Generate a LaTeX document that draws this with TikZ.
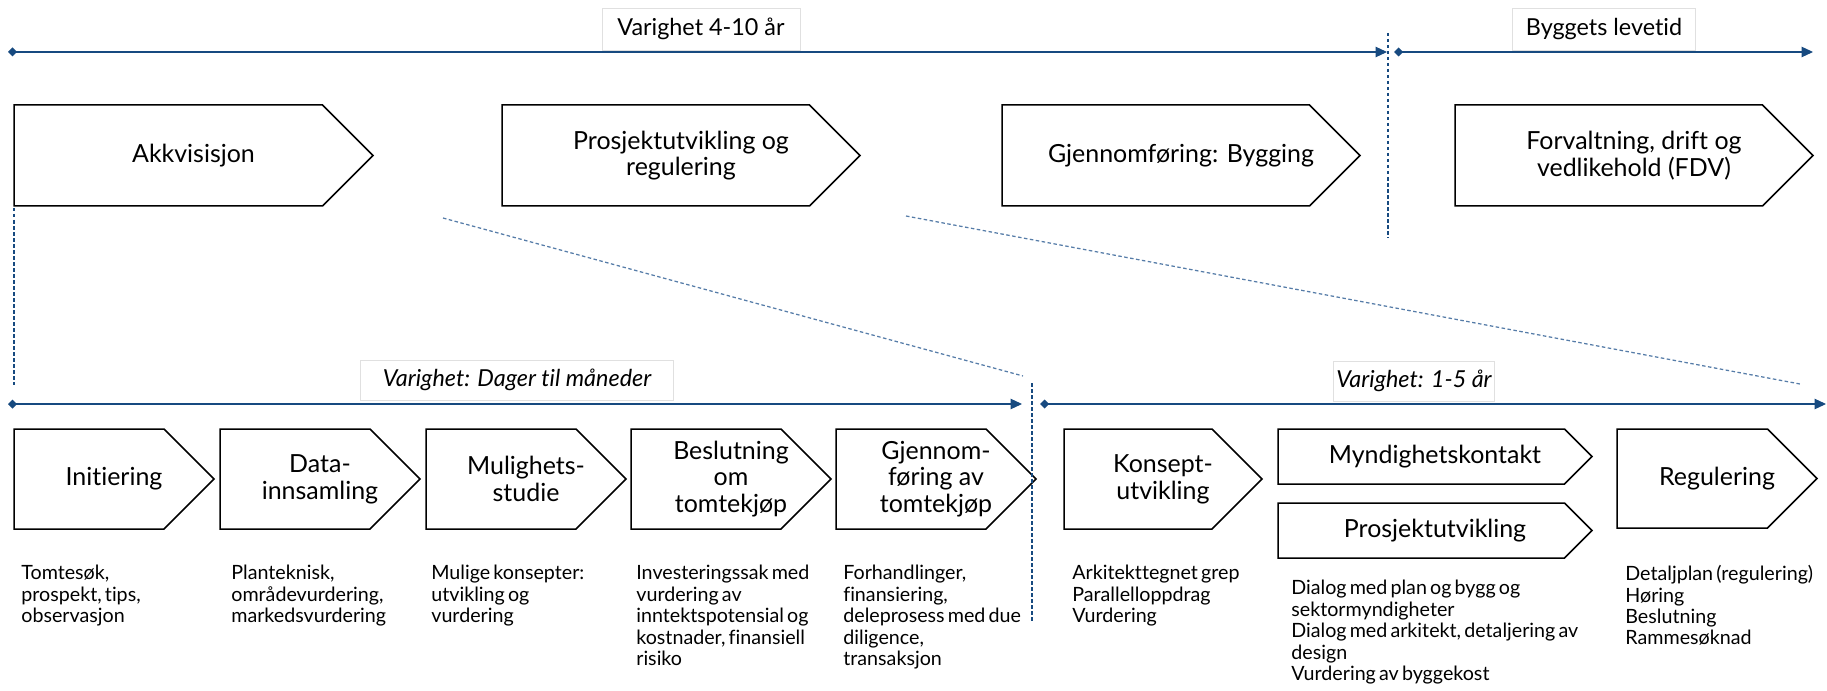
\documentclass[tikz,border=0pt]{standalone}
\usepackage{fontspec}
\setmainfont{Lato}[Ligatures={NoCommon,NoDiscretionary}]
\usetikzlibrary{arrows.meta,calc,positioning}

\definecolor{tlblue}{RGB}{23,74,128}
\definecolor{dashblue}{RGB}{86,124,168}
\definecolor{boxgray}{RGB}{224,224,224}

\newcommand{\descfont}{\fontsize{11.2}{12.2}\selectfont\spaceskip=0.16em plus 0.05em\relax}

% chevron: name, left, top, width, height, text
\newcommand{\chev}[6]{%
  \draw[chevline] (#2,#3) -- ({#2+#4-#5/2},#3) -- ({#2+#4},{#3+#5/2})
    -- ({#2+#4-#5/2},{#3+#5}) -- (#2,{#3+#5}) -- cycle;
  \node[chevtext] (#1) at ({#2+#4/2},{#3+#5/2}) {#6};}

\begin{document}
\begin{tikzpicture}[x=0.2mm,y=-0.2mm,
    chevline/.style={draw=black,line width=0.3mm,line join=miter},
    chevtext/.style={align=center,inner sep=0pt,font=\fontsize{14.2}{15.2}\selectfont},
    timeline/.style={draw=tlblue,line width=0.22mm,
      {Diamond[length=1.8mm,width=1.8mm]}-{Triangle[length=2.3mm,width=2.1mm]}},
    split/.style={draw=tlblue,line width=0.22mm,dash pattern=on 0.7mm off 0.5mm},
    zoomline/.style={draw=dashblue,line width=0.25mm,dash pattern=on 0.7mm off 0.5mm},
    span/.style={draw=boxgray,fill=white,inner sep=0pt,minimum height=8.4mm,
      font=\fontsize{13.3}{15}\selectfont},
    desc/.style={anchor=north west,align=left,inner sep=0pt,font=\descfont}]
  \useasboundingbox (0,0) rectangle (1827,691);
  %
  % timelines
  \coordinate (a1) at (8,52);
  \coordinate (a2) at (1387,52);
  \coordinate (b1) at (1394,52);
  \coordinate (b2) at (1813,52);
  \coordinate (c1) at (8,404);
  \coordinate (c2) at (1022,404);
  \coordinate (d1) at (1040,404);
  \coordinate (d2) at (1826,404);
  \draw[timeline] (a1) -- (a2);
  \draw[timeline] (b1) -- (b2);
  \draw[timeline] (c1) -- (c2);
  \draw[timeline] (d1) -- (d2);
  %
  \node[span,minimum width=39.6mm] (v410) at (701,29) {Varighet 4-10 år};
  \node[span,minimum width=36.6mm] (levetid) at (1604,29) {Byggets levetid};
  \node[span,minimum width=62.6mm,minimum height=8mm,font=\fontsize{13.3}{15}\selectfont\itshape]
    (vdager) at (517,380) {Varighet: Dager til måneder};
  \node[span,minimum width=32.2mm,minimum height=8mm,font=\fontsize{13.3}{15}\selectfont\itshape]
    (v15) at (1414,381) {Varighet: 1-5 år};
  %
  % main phases
  \chev{akk}{14}{105}{359}{101}{Akkvisisjon}
  \chev{prosj}{502}{105}{358}{101}{Prosjektutvikling og\\regulering}
  \chev{bygg}{1002}{105}{358}{101}{Gjennomføring: Bygging}
  \chev{fdv}{1455}{105}{358}{101}{Forvaltning, drift og\\vedlikehold (FDV)}
  %
  % acquisition steps
  \chev{init}{14}{429}{200}{100}{Initiering}
  \chev{data}{220}{429}{200}{100}{Data-\\innsamling}
  \chev{mul}{426}{429}{200}{100}{Mulighets-\\studie}
  \chev{besl}{631}{429}{200}{100}{Beslutning\\om\\tomtekjøp}
  \chev{gjen}{836}{429}{200}{100}{Gjennom-\\føring av\\tomtekjøp}
  %
  % development steps
  \chev{kons}{1064}{429}{198}{100}{Konsept-\\utvikling}
  \chev{mynd}{1278}{429}{314}{55}{Myndighetskontakt}
  \chev{putv}{1278}{503}{314}{55}{Prosjektutvikling}
  \chev{reg}{1617}{429}{200}{99}{Regulering}
  %
  % split and zoom lines
  \coordinate (s1) at (1388,33);
  \coordinate (s2) at (1388,238);
  \coordinate (s3) at (1032,383);
  \coordinate (s4) at (1032,623);
  \coordinate (s5) at (14,208);
  \coordinate (s6) at (14,385);
  \coordinate (z1) at (443,218);
  \coordinate (z2) at (1023,376);
  \coordinate (z3) at (906,216);
  \coordinate (z4) at (1800,384);
  \draw[split] (s1) -- (s2);
  \draw[split] (s3) -- (s4);
  \draw[split] (s5) -- (s6);
  \draw[zoomline] (z1) -- (z2);
  \draw[zoomline] (z3) -- (z4);
  %
  % descriptions
  \node[desc] (tInit) at (21,565) {Tomtesøk,\\prospekt, tips,\\observasjon};
  \node[desc] (tData) at (231,565) {Planteknisk,\\områdevurdering,\\markedsvurdering};
  \node[desc] (tMul) at (431,565) {Mulige konsepter:\\utvikling og\\vurdering};
  \node[desc] (tBesl) at (636,565) {Investeringssak med\\vurdering av\\inntektspotensial og\\kostnader, finansiell\\risiko};
  \node[desc] (tGjen) at (843,565) {Forhandlinger,\\finansiering,\\deleprosess med due\\diligence,\\transaksjon};
  \node[desc] (tKons) at (1072,565) {Arkitekttegnet grep\\Parallelloppdrag\\Vurdering};
  \node[desc] (tPutv) at (1291,580) {Dialog med plan og bygg og\\sektormyndigheter\\Dialog med arkitekt, detaljering av\\design\\Vurdering av byggekost};
  \node[desc] (tReg) at (1625,565) {Detaljplan (regulering)\\Høring\\Beslutning\\Rammesøknad};
\end{tikzpicture}
\end{document}
